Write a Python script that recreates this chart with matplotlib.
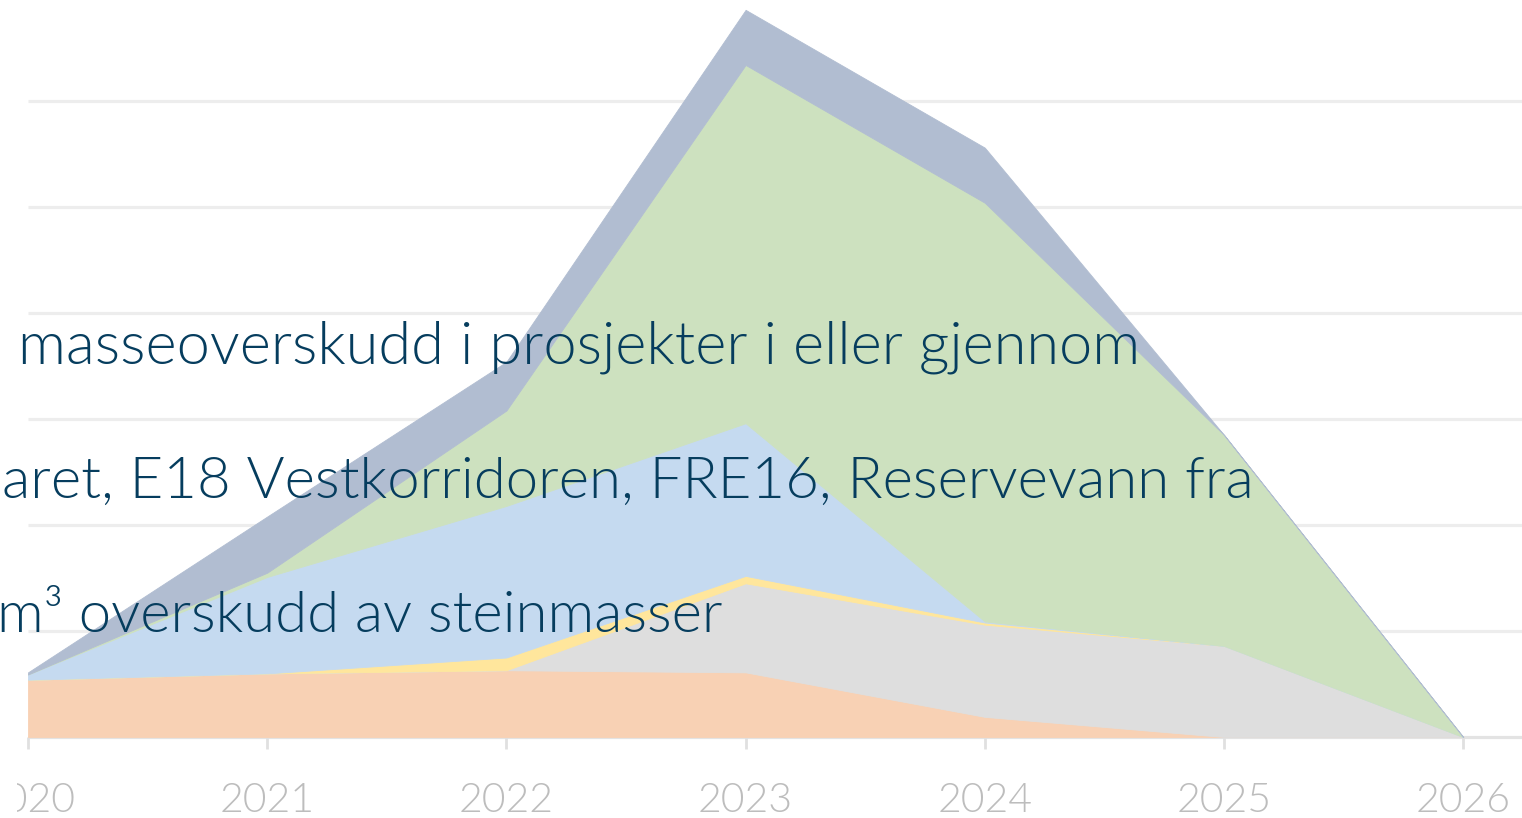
import matplotlib
matplotlib.use("Agg")
import matplotlib.pyplot as plt
from matplotlib.patches import Rectangle

# ---- data (units: gridline step = 100) ----
years = [2020, 2021, 2022, 2023, 2024, 2025, 2026]
orange = [54, 60, 63, 61, 19, 0, 0]
grey = [0, 0, 0, 84, 87, 86, 0]
yellow = [0, 0, 12, 7, 2, 0, 0]
blue = [5, 91, 143, 144, 1, 0, 0]
green = [0, 4, 90, 338, 395, 199, 0]
darkblue = [2, 53, 46, 52, 52, 0, 0]

series = [orange, grey, yellow, blue, green, darkblue]
colors = ["#F8D1B4", "#DEDEDE", "#FFE69C", "#C5DAF0", "#CDE1BF", "#B1BDD1"]
grid_values = [100, 200, 300, 400, 500, 600]
tick_labels = ["2020", "2021", "2022", "2023", "2024", "2025", "2026"]
text_lines = [
    "masseoverskudd i prosjekter i eller gjennom",
    "aret, E18 Vestkorridoren, FRE16, Reservevann fra",
    "m\u00b3 overskudd av steinmasser",
]

W, H = 1522, 818
DPI = 100
fig = plt.figure(figsize=(W / DPI, H / DPI), dpi=DPI)
ax = fig.add_axes([0, 0, 1, 1])

px_per_year = 239.2
x0_px = 28
xmin = 2020 - x0_px / px_per_year
xmax = 2020 + (W - x0_px) / px_per_year
base_px = 737
px_per_unit = 1.06
ymin = -(H - base_px) / px_per_unit
ymax = base_px / px_per_unit
ax.set_xlim(xmin, xmax)
ax.set_ylim(ymin, ymax)
ax.axis("off")

# gridlines and axis
ax.hlines(grid_values, 2020, xmax, colors="#EDEDED", linewidth=2.3, zorder=0)
ax.hlines([0], 2020, xmax, colors="#E3E3E3", linewidth=2.3, zorder=0)
ax.vlines(years, -12 / px_per_unit, 0, colors="#E0E0E0", linewidth=2.0, zorder=0)

# stacked areas
polys = ax.stackplot(years, *series, colors=colors, linewidth=0.6, zorder=1)
for p, c in zip(polys, colors):
    p.set_edgecolor(c)

# year labels
for yr, lab in zip(years, tick_labels):
    ax.text(yr, -(812 - base_px) / px_per_unit, lab, ha="center", va="baseline",
            fontsize=29.5, color="#BDBDBD", family="Lato", fontweight=300,
            zorder=3)

# chart image is cropped on the left: white strip covers the chart layer
fig.patches.append(Rectangle((0, 0), 17 / W, 1, transform=fig.transFigure,
                             facecolor="white", edgecolor="none", zorder=5))

# overlay text (fit each line to its measured extent)
txt_color = "#063D5E"
lefts = [18, 2, -3]
rights = [1138, 1250, 721]
baselines = [364, 498, 632]
fig.canvas.draw()
r = fig.canvas.get_renderer()
for s, xl, xr, yb in zip(text_lines, lefts, rights, baselines):
    t = fig.text(xl / W, 1 - yb / H, s, ha="left", va="baseline", fontsize=40,
                 color=txt_color, family="Lato", fontweight=300, zorder=10)
    ext = t.get_window_extent(r)
    t.set_fontsize(40 * (xr - xl) / ext.width)

fig.savefig("out.png", dpi=DPI, facecolor="white")
